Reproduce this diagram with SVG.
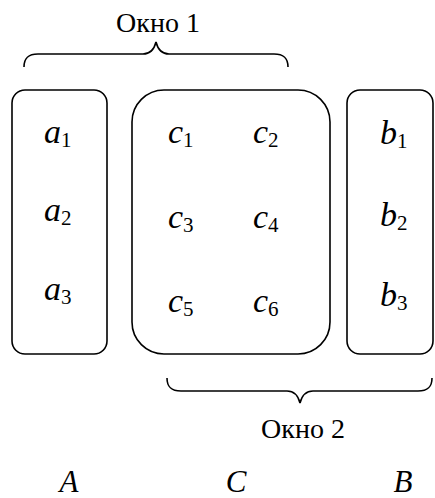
<svg xmlns="http://www.w3.org/2000/svg" width="435" height="498" viewBox="0 0 435 498">
  <style>
    .box { fill: none; stroke: #000; stroke-width: 1.6; }
    .brace { fill: none; stroke: #000; stroke-width: 1.6; }
    .lbl { font-family: "Liberation Serif", "Times New Roman", serif; font-size: 28px; fill: #000; }
    .v { font-family: "Liberation Serif", "Times New Roman", serif; font-size: 34px; font-style: italic; fill: #000; }
    .s { font-style: normal; font-size: 21px; }
    .set { font-family: "Liberation Serif", "Times New Roman", serif; font-size: 31px; font-style: italic; fill: #000; text-anchor: middle; }
  </style>

  <!-- set A -->
  <g id="A">
    <rect class="box" x="12" y="90" width="95" height="264" rx="13"/>
    <text class="v" x="44" y="143">a<tspan class="s" dy="4">1</tspan></text>
    <text class="v" x="44" y="221">a<tspan class="s" dy="4">2</tspan></text>
    <text class="v" x="44" y="300">a<tspan class="s" dy="4">3</tspan></text>
    <text class="set" x="69" y="492">A</text>
  </g>

  <!-- set C -->
  <g id="C">
    <rect class="box" x="132" y="90" width="198" height="264" rx="32"/>
    <text class="v" x="168" y="143">c<tspan class="s" dy="4">1</tspan></text>
    <text class="v" x="253" y="143">c<tspan class="s" dy="4">2</tspan></text>
    <text class="v" x="168" y="228">c<tspan class="s" dy="4">3</tspan></text>
    <text class="v" x="253" y="228">c<tspan class="s" dy="4">4</tspan></text>
    <text class="v" x="168" y="312">c<tspan class="s" dy="4">5</tspan></text>
    <text class="v" x="253" y="312">c<tspan class="s" dy="4">6</tspan></text>
    <text class="set" x="236" y="492">C</text>
  </g>

  <!-- set B -->
  <g id="B">
    <rect class="box" x="347" y="90" width="86" height="264" rx="13"/>
    <text class="v" x="380" y="144">b<tspan class="s" dy="4">1</tspan></text>
    <text class="v" x="380" y="226">b<tspan class="s" dy="4">2</tspan></text>
    <text class="v" x="380" y="306">b<tspan class="s" dy="4">3</tspan></text>
    <text class="set" x="403" y="492">B</text>
  </g>

  <!-- window braces -->
  <g id="connectors">
    <path class="brace" d="M24,67 C24,58 28,54 38,54 L143,54 C150,54 154,50 156,42 C158,50 162,54 169,54 L274,54 C284,54 288,58 288,67"/>
    <path class="brace" d="M167,378 C167,387 171,391 181,391 L287,391 C294,391 298,395 300,403 C302,395 306,391 313,391 L418,391 C428,391 432,387 432,378"/>
  </g>

  <g id="window1">
    <text class="lbl" x="158" y="32" text-anchor="middle">Окно 1</text>
  </g>
  <g id="window2">
    <text class="lbl" x="303" y="438" text-anchor="middle">Окно 2</text>
  </g>
</svg>
